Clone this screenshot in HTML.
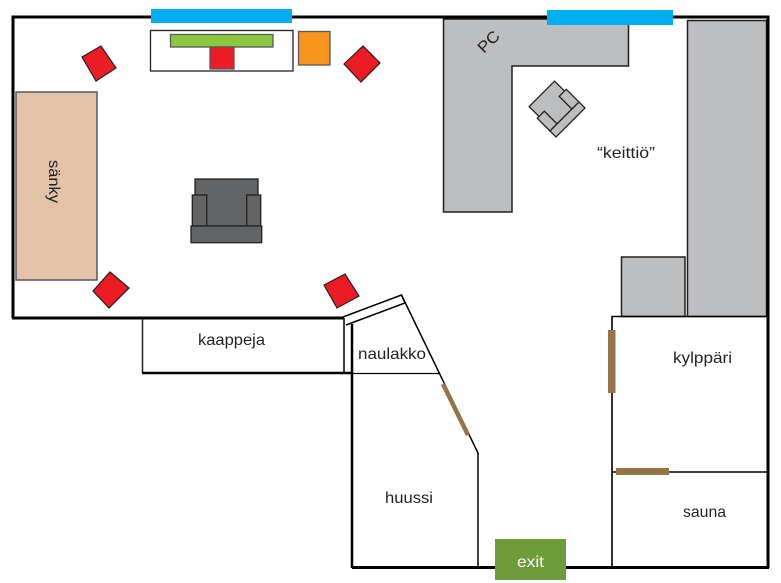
<!DOCTYPE html>
<html><head><meta charset="utf-8"><style>
html,body{margin:0;padding:0;background:#fff;}
svg{display:block;}
text{font-family:"Liberation Sans",sans-serif;font-size:16px;fill:#231f20;}
</style></head><body>
<svg width="781" height="583" viewBox="0 0 781 583" xmlns="http://www.w3.org/2000/svg">
<rect width="781" height="583" fill="#fff"/>
<!-- kitchen grey -->
<polygon points="443.5,19 628.5,19 628.5,66 512,66 512,212 443.5,212" fill="#bcbec0" stroke="#231f20" stroke-width="1.5"/>
<rect x="687.5" y="20.5" width="79" height="296" fill="#bcbec0" stroke="#231f20" stroke-width="1.5"/>
<rect x="621.5" y="257" width="63.5" height="59.5" fill="#bcbec0" stroke="#231f20" stroke-width="1.5"/>
<!-- outer walls -->
<polyline points="13,318 13,17 768,17 768,568" fill="none" stroke="#000" stroke-width="3"/>
<line x1="12" y1="318" x2="344" y2="318" stroke="#000" stroke-width="3"/>
<line x1="352" y1="567.5" x2="769" y2="567.5" stroke="#000" stroke-width="3"/>
<!-- windows -->
<rect x="151" y="9" width="141" height="14" fill="#00aeef"/>
<rect x="547" y="10" width="126" height="15" fill="#00aeef"/>
<!-- tv stand -->
<rect x="150.5" y="30.5" width="142.5" height="40.5" fill="#fff" stroke="#231f20" stroke-width="1.3"/>
<rect x="170.5" y="34.5" width="102.5" height="12.5" fill="#8dc63f" stroke="#58595b" stroke-width="1.3"/>
<rect x="210" y="47" width="24" height="22" fill="#ed1c24" stroke="#58595b" stroke-width="1.3"/>
<rect x="298.5" y="31.5" width="31.5" height="33.5" fill="#f7941d" stroke="#58595b" stroke-width="1.3"/>
<!-- speakers -->
<g fill="#ed1c24" stroke="#231f20" stroke-width="1.2">
<polygon points="82,57 101,46 116,68 96,81"/>
<polygon points="344,64 363,46 380,63 361,82"/>
<polygon points="93,291 110,272 129,288 109,308"/>
<polygon points="324,285 345,274 359,296 337,308"/>
</g>
<!-- bed -->
<rect x="16" y="92" width="81" height="188" fill="#e2c3a7" stroke="#58595b" stroke-width="1.5"/>
<text transform="translate(49,160) rotate(90)" textLength="43" lengthAdjust="spacingAndGlyphs">sänky</text>
<!-- armchair -->
<g fill="#636466" stroke="#231f20" stroke-width="1.3">
<rect x="195" y="179" width="63" height="47"/>
<rect x="192.3" y="195" width="14.4" height="31"/>
<rect x="246.7" y="195" width="14" height="31"/>
<rect x="191" y="226" width="70.7" height="16.7"/>
</g>
<!-- small chair -->
<g transform="translate(556,108) rotate(-45)" fill="#bcbec0" stroke="#231f20" stroke-width="1.3">
<rect x="-18" y="-20" width="36" height="32"/>
<rect x="-20.5" y="-6" width="10" height="18"/>
<rect x="10.5" y="-6" width="10" height="18"/>
<rect x="-20.5" y="12" width="41" height="8.5"/>
</g>
<text transform="translate(484,54) rotate(-45)" textLength="24" lengthAdjust="spacingAndGlyphs">PC</text>
<text x="597" y="158" textLength="58" lengthAdjust="spacingAndGlyphs">“keittiö”</text>
<!-- kaappeja -->
<line x1="142.5" y1="318" x2="142.5" y2="373" stroke="#231f20" stroke-width="1.5"/>
<line x1="142" y1="373" x2="352" y2="373" stroke="#000" stroke-width="2.5"/>
<line x1="344" y1="318" x2="344" y2="373" stroke="#000" stroke-width="1.5"/>
<text x="198" y="345" textLength="67" lengthAdjust="spacingAndGlyphs">kaappeja</text>
<!-- naulakko / huussi -->
<polyline points="343,317 401.5,295 405,303 346,325" fill="none" stroke="#000" stroke-width="1.5"/>
<line x1="352" y1="324" x2="352" y2="568" stroke="#000" stroke-width="2.5"/>
<line x1="352" y1="373.5" x2="439" y2="373.5" stroke="#000" stroke-width="1.3"/>
<polyline points="401.5,295 478,453 478,567" fill="none" stroke="#000" stroke-width="1.5"/>
<line x1="443" y1="384" x2="468" y2="435" stroke="#957448" stroke-width="4.5"/>
<text x="358" y="359" textLength="68" lengthAdjust="spacingAndGlyphs">naulakko</text>
<text x="385" y="503" textLength="48" lengthAdjust="spacingAndGlyphs">huussi</text>
<!-- bathroom -->
<polyline points="612,567 612,316.5 768,316.5" fill="none" stroke="#000" stroke-width="1.6"/>
<line x1="612" y1="472" x2="768" y2="472" stroke="#000" stroke-width="1.5"/>
<rect x="608" y="330" width="7.5" height="63" fill="#957448"/>
<rect x="616" y="468" width="53" height="7" fill="#957448"/>
<text x="673" y="363" textLength="59" lengthAdjust="spacingAndGlyphs">kylppäri</text>
<text x="683" y="517" textLength="43" lengthAdjust="spacingAndGlyphs">sauna</text>
<!-- exit -->
<rect x="495" y="539" width="71" height="41" fill="#6f9c3a"/>
<text x="517" y="567" textLength="27" lengthAdjust="spacingAndGlyphs" style="fill:#fff">exit</text>
</svg>
</body></html>
